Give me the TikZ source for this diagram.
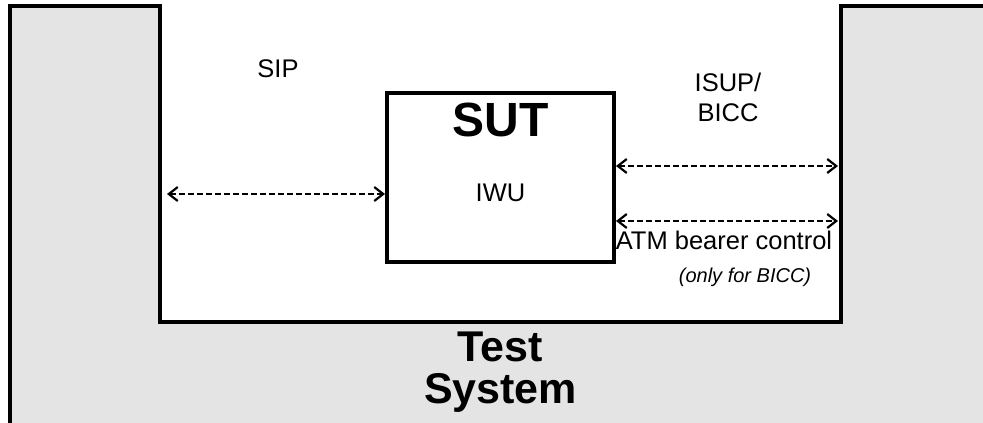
\documentclass[tikz,border=0pt]{standalone}
\usepackage{fontspec}
\setmainfont{Liberation Sans}
\usetikzlibrary{arrows.meta}
\definecolor{panelgray}{HTML}{E4E4E4}
\begin{document}
\begin{tikzpicture}[x=1pt,y=-1pt,
  frame/.style={line width=4pt, line join=miter},
  sutbox/.style={draw, line width=4pt, inner sep=0pt, minimum width=227pt, minimum height=168.7pt},
  sig/.style={line width=2.2pt, dash pattern=on 6pt off 3pt,
    {Straight Barb[length=9pt,width=14pt,line width=2.2pt]}-{Straight Barb[length=9pt,width=14pt,line width=2.2pt]}},
  lbl/.style={font=\fontsize{25.5}{30}\selectfont, inner sep=0pt, align=center},
  note/.style={font=\fontsize{20}{24}\selectfont\itshape, inner sep=0pt},
  title/.style={font=\fontsize{43}{42}\selectfont\bfseries, inner sep=0pt, align=center}]
\useasboundingbox (0,0) rectangle (983,423);
\fill[white] (0,0) rectangle (983,423);

% Test system: grey frame around the open window
\fill[panelgray] (9.5,6.3) -- (160,6.3) -- (160,322) -- (841,322) -- (841,6.3)
  -- (990,6.3) -- (990,430) -- (9.5,430) -- cycle;
\draw[frame] (9.5,430) -- (9.5,6.3) -- (160,6.3) -- (160,322) -- (841,322)
  -- (841,6.3) -- (990,6.3);

% System under test
\node[sutbox] (sut) at (500.5,177.65) {};
\node[title, font=\fontsize{48}{48}\selectfont\bfseries, anchor=base] (suttitle) at (500.5,136) {SUT};
\node[lbl, anchor=base] (iwu) at (500.5,201) {IWU};

% Interfaces
\coordinate (sipend) at (167,194);
\coordinate (isupend) at (838,166);
\coordinate (atmend) at (838,221);
\draw[sig] (sipend) -- (sipend -| sut.west);
\draw[sig] (isupend -| sut.east) -- (isupend);
\draw[sig] (atmend -| sut.east) -- (atmend);

\node[lbl, anchor=base] (sip) at (278,77) {SIP};
\node[lbl, anchor=north] (isup) at (728,73) {ISUP/\\BICC};
\node[lbl, anchor=base] (atm) at (724,249) {ATM bearer control};
\node[note, anchor=base] (bicc) at (745,282) {(only for BICC)};

% Test system label
\node[title, anchor=north] (ts) at (500.5,332) {Test\\System};
\end{tikzpicture}
\end{document}
